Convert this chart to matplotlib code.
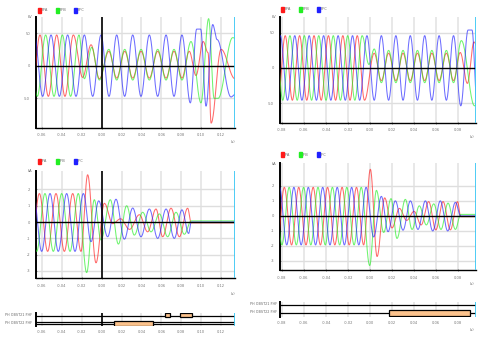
import numpy as np
import matplotlib
matplotlib.use("Agg")
import matplotlib.pyplot as plt
from matplotlib.patches import Rectangle

# ---- data (times in ms, values in kV / kA) ----
# each series is a list of turning points (extrema) of the waveform

# top left: voltages
tl_a_t = [-70.4, -62.0, -53.6, -45.2, -36.9, -28.5, -19.1, -10.7, -2.3, 7.2, 15.1, 23.2, 31.2, 39.6,
          47.9, 56.3, 64.7, 72.7, 80.7, 88.0, 94.8, 102.0, 106.9, 110.0, 120.0, 134.0]
tl_a_v = [-47, 47, -47, 47, -47, 47, -18, 32, -20, 22, -19, 22, -19, 22,
          -19, 22, -19, 22, -19, 22, -15, 37, 20, -88, 25, -20]
tl_b_t = [-73.1, -64.7, -56.3, -47.9, -39.5, -31.2, -22.8, -17.4, -10.0, -2.3, 7.2, 15.1, 23.2, 31.2,
          39.6, 47.9, 56.3, 64.7, 72.7, 80.7, 89.8, 99.8, 107.5, 113.0, 117.0, 131.7, 134.0]
tl_b_v = [47, -47, 47, -47, 47, -47, 47, -20, 28, -22, 25, -22, 25, -22,
          25, -22, 25, -22, 25, -22, 37, -57, 72, -50, -50, 43, 42]
tl_c_t = [-67.7, -59.3, -50.9, -42.5, -34.2, -25.8, -17.4, -9.0, -0.7, 7.4, 15.1, 23.1, 31.2, 39.5,
          47.9, 56.3, 64.7, 72.7, 80.7, 89.1, 95.5, 99.5, 104.9, 111.6, 116.0, 130.0, 134.0]
tl_c_v = [47, -47, 47, -47, 47, -47, 47, -47, 47, -47, 47, -47, 47, -47,
          47, -47, 47, -47, 47, -57, 56, 56, -62, 63, 40, -48, -44]

# top right: voltages
tr_a_t = [-83.7, -77.1, -70.6, -64.0, -57.5, -50.9, -44.4, -37.8, -31.3, -24.7, -18.2, -11.6, -5.0,
          3.8, 10.3, 16.9, 23.5, 30.0, 36.6, 43.1, 49.7, 56.2, 62.8, 69.4, 75.9, 82.0, 88.5, 94.5, 97.5]
tr_a_v = [-46, 46, -46, 46, -46, 46, -46, 46, -46, 46, -46, 46, -46,
          21, -18, 21, -18, 21, -18, 21, -18, 21, -18, 21, -18, 22, -22, 37, 30]
tr_b_t = [-85.9, -79.3, -72.8, -66.2, -59.7, -53.1, -46.6, -40.0, -33.4, -26.9, -20.3, -13.8, -7.2, -1.0,
          3.8, 10.3, 16.9, 23.5, 30.0, 36.6, 43.1, 49.7, 56.2, 62.8, 69.4, 75.9, 83.0, 95.0, 97.5]
tr_b_v = [46, -46, 46, -46, 46, -46, 46, -46, 46, -46, 46, -46, 46, 5,
          27, -21, 25, -21, 25, -21, 25, -21, 25, -21, 25, -21, 39, -54, -50]
tr_c_t = [-88.1, -81.5, -75.0, -68.4, -61.9, -55.3, -48.7, -42.2, -35.6, -29.0, -22.5, -15.9, -9.4, -2.8,
          3.8, 10.3, 16.9, 23.5, 30.0, 36.6, 43.1, 49.7, 56.2, 62.8, 69.4, 75.9, 82.5, 89.1, 92.7, 97.5]
tr_c_v = [-46, 46, -46, 46, -46, 46, -46, 46, -46, 46, -46, 46, -46, 46,
          -46, 46, -46, 46, -46, 46, -46, 46, -46, 46, -46, 46, -54, 54, 54, -60]

# bottom left: currents
bl_a_t = [-71.0, -62.6, -54.3, -45.9, -37.5, -29.1, -20.8, -14.1, -5.7, 2.7, 11.0, 19.0, 28.0, 37.9,
          46.2, 54.6, 61.3, 69.7, 78.1, 86.4, 90.0, 91.0, 134.0]
bl_a_v = [-1.8, 1.75, -1.8, 1.75, -1.8, 1.75, -1.8, 2.9, -2.5, 1.15, -0.1, 0.2, -0.45, 0.45,
          -0.6, 0.8, -0.9, 0.85, -0.9, 0.85, -0.05, -0.05, -0.05]
bl_b_t = [-73.6, -65.3, -57.0, -48.6, -40.2, -31.8, -23.5, -15.1, -7.4, -0.7, 8.7, 16.8, 25.1, 32.8,
          41.2, 49.6, 58.0, 66.3, 74.7, 83.1, 89.8, 91.0, 134.0]
bl_b_v = [1.75, -1.8, 1.75, -1.8, 1.75, -1.8, 1.75, -3.1, 1.37, -1.1, 1.37, -1.35, 1.0, -0.8,
          0.6, -0.6, 0.5, -0.9, 0.6, -0.75, 0.07, 0.07, 0.07]
bl_c_t = [-68.6, -60.3, -51.9, -43.6, -35.2, -26.8, -18.4, -10.7, -3.0, 6.0, 14.4, 22.8, 31.2, 39.5,
          47.9, 56.3, 64.7, 73.0, 80.7, 87.4, 90.0, 91.0, 134.0]
bl_c_v = [1.75, -1.8, 1.75, -1.8, 1.75, -1.8, 1.75, -1.2, 1.3, -0.9, 1.4, -1.05, 0.86, -0.9,
          0.8, -1.0, 0.8, -1.0, 0.75, -0.7, 0.0, 0.0, 0.0]

# bottom right: currents
br_a_t = [-84.4, -77.9, -71.3, -64.8, -58.2, -51.7, -45.1, -38.6, -32.0, -25.4, -18.9, -12.3, -5.8,
          0.3, 6.4, 13.3, 20.0, 26.7, 33.3, 40.0, 46.5, 53.3, 59.8, 66.4, 73.0, 79.6, 82.4, 83.0, 97.5]
br_a_v = [-1.93, 1.9, -1.93, 1.9, -1.93, 1.9, -1.93, 1.9, -1.93, 1.9, -1.93, 1.9, -1.93,
          3.1, -2.7, 1.2, -0.8, 0.5, -0.3, 0.3, -0.6, 0.95, -0.93, 0.95, -0.93, 0.95, -0.05, -0.05, -0.05]
br_b_t = [-86.6, -80.1, -73.5, -67.0, -60.4, -53.8, -47.3, -40.7, -34.2, -27.6, -21.1, -14.5, -8.0,
          -0.3, 5.8, 12.4, 19.1, 24.5, 32.1, 38.2, 44.8, 51.2, 57.9, 64.5, 70.9, 77.6, 82.4, 83.0, 97.5]
br_b_v = [1.9, -1.93, 1.9, -1.93, 1.9, -1.93, 1.9, -1.93, 1.9, -1.93, 1.9, -1.93, 1.9,
          -3.3, 1.7, -1.1, 1.15, -1.5, 1.1, -0.9, 0.67, -0.6, 0.8, -0.9, 0.85, -0.9, 0.1, 0.1, 0.1]
br_c_t = [-82.3, -75.7, -69.2, -62.6, -56.1, -49.5, -43.0, -36.4, -29.8, -23.3, -16.7, -10.2, -3.6,
          3.3, 10.3, 16.4, 23.0, 30.0, 36.7, 43.6, 50.3, 57.0, 63.9, 70.6, 77.6, 82.4, 83.0, 97.5]
br_c_v = [1.9, -1.93, 1.9, -1.93, 1.9, -1.93, 1.9, -1.93, 1.9, -1.93, 1.9, -1.93, 1.9,
          -1.4, 1.3, -1.05, 1.0, -0.95, 1.0, -0.9, 1.0, -1.0, 1.0, -1.0, 0.9, 0.0, 0.0, 0.0]

# binary channels (start, end in ms)
bin_labels = ["PH OBST21 PHF", "PH OBST22 PHF"]
bl_row1 = [(64.0, 68.7), (78.4, 90.8)]
bl_row2 = [(12.4, 51.9)]
br_row1 = []
br_row2 = [(17.0, 91.2)]

volt_names = ["PFA", "PFB", "PFC"]
curr_names = ["IFA", "IFB", "IFC"]
left_ticks = [-60, -40, -20, 0, 20, 40, 60, 80, 100, 120]
right_ticks = [-80, -60, -40, -20, 0, 20, 40, 60, 80]

RED, GREEN, BLUE = "#ff1a1a", "#22ee22", "#2020ff"
CYAN = "#3cc8f4"
W, H = 484, 337


def wave(t, v):
    # smooth curve through turning points (half-cosine between neighbours)
    xs, ys = [], []
    for i in range(len(t) - 1):
        s = np.linspace(0, 1, 24, endpoint=False)
        xs.append(t[i] + (t[i + 1] - t[i]) * s)
        ys.append(v[i] + (v[i + 1] - v[i]) * (1 - np.cos(np.pi * s)) / 2)
    xs.append([t[-1]])
    ys.append([v[-1]])
    return np.concatenate(xs), np.concatenate(ys)


def box(x0, y0, x1, y1):
    # pixel box -> figure fraction rect
    return [x0 / W, 1 - y1 / H, (x1 - x0) / W, (y1 - y0) / H]


fig = plt.figure(figsize=(W / 100, H / 100), dpi=100)


def style_axis(ax, xlim, xticks, ylim, yticks, ylabels, trigger):
    ax.set_xlim(*xlim)
    ax.set_ylim(*ylim)
    for s in ["top", "right"]:
        ax.spines[s].set_visible(False)
    ax.spines["left"].set_linewidth(1.4)
    ax.spines["bottom"].set_linewidth(1.0)
    ax.set_xticks(xticks)
    ax.set_xticklabels([f"{x / 1000:.2f}" for x in xticks])
    ax.set_yticks(yticks)
    ax.set_yticklabels(ylabels)
    ax.tick_params(labelsize=2.6, colors="#777777", length=2, width=0.6, pad=3,
                   direction="inout")
    for x in xticks:
        ax.axvline(x, color="#e4e4e4", lw=1.2, zorder=0)
    for y in yticks:
        if y != 0:
            ax.axhline(y, color="#dedede", lw=1.0, zorder=0)
    ax.axhline(0, color="black", lw=1.0, zorder=4)
    if trigger:
        ax.axvline(0, color="black", lw=1.2, zorder=4)
    ax.axvline(xlim[1], color=CYAN, lw=2.0, zorder=5)


def legend(x, y, names):
    for i, (c, n) in enumerate(zip([RED, GREEN, BLUE], names)):
        xx = x + i * 18
        fig.add_artist(Rectangle((xx / W, 1 - (y + 2.5) / H), 3 / W, 5 / H,
                                 transform=fig.transFigure, color=c))
        fig.text((xx + 4) / W, 1 - y / H, n, fontsize=2.6, color="#666666", va="center")


def waves(ax, series):
    for (t, v), c in zip(series, [RED, GREEN, BLUE]):
        x, y = wave(t, v)
        ax.plot(x, y, color=c, lw=0.75, alpha=0.65, zorder=3)


def binary(rect, xlim, xticks, rows, lines, boxes, trigger, lab_x, lab_y):
    ax = fig.add_axes(rect)
    ax.set_xlim(*xlim)
    ax.set_ylim(0, 1)
    for s in ["top", "right", "bottom"]:
        ax.spines[s].set_visible(False)
    ax.spines["left"].set_linewidth(1.4)
    ax.set_yticks([])
    ax.set_xticks(xticks)
    ax.set_xticklabels([f"{x / 1000:.2f}" for x in xticks])
    ax.tick_params(labelsize=2.6, colors="#777777", length=0, pad=3)
    for x in xticks:
        ax.axvline(x, color="#e4e4e4", lw=1.2, zorder=0)
    for y in lines:
        ax.axhline(y, color="black", lw=0.9, zorder=2)
    for segs, (y0, y1) in zip(rows, boxes):
        for a, b in segs:
            ax.add_patch(Rectangle((a, y0), b - a, y1 - y0, facecolor="#fbc28c",
                                   edgecolor="black", lw=0.9, zorder=3))
    if trigger:
        ax.axvline(0, color="black", lw=1.2, zorder=4)
    ax.axvline(xlim[1], color=CYAN, lw=2.0, zorder=5)
    for lab, yy in zip(bin_labels, lab_y):
        fig.text(lab_x / W, 1 - yy / H, lab, fontsize=2.4, color="#666666",
                 ha="right", va="center")
    return ax


L_XLIM = (-66.3, 134.0)
R_XLIM = (-82.1, 96.6)

# top left
ax1 = fig.add_axes(box(35.7, 16.7, 235, 127.7))
style_axis(ax1, L_XLIM, left_ticks, (-95, 75), [50, 0, -50], ["50", "0", "-50"], True)
waves(ax1, [(tl_a_t, tl_a_v), (tl_b_t, tl_b_v), (tl_c_t, tl_c_v)])
fig.text(32 / W, 1 - 17.5 / H, "kV", fontsize=2.6, color="#666666", ha="right", va="center")
fig.text(231 / W, 1 - 142 / H, "(s)", fontsize=2.6, color="#666666", va="center")
legend(37.5, 10, volt_names)

# top right
ax2 = fig.add_axes(box(279.7, 16.7, 476.3, 122.7))
style_axis(ax2, R_XLIM, right_ticks, (-78, 73), [50, 0, -50], ["50", "0", "-50"], False)
waves(ax2, [(tr_a_t, tr_a_v), (tr_b_t, tr_b_v), (tr_c_t, tr_c_v)])
fig.text(276 / W, 1 - 17.5 / H, "kV", fontsize=2.6, color="#666666", ha="right", va="center")
fig.text(470 / W, 1 - 137 / H, "(s)", fontsize=2.6, color="#666666", va="center")
legend(280.7, 9.5, volt_names)

# bottom left
ax3 = fig.add_axes(box(35.7, 170.7, 235, 278.3))
style_axis(ax3, L_XLIM, left_ticks, (-3.45, 3.15), [2, 1, 0, -1, -2, -3],
           ["2", "1", "0", "-1", "-2", "-3"], True)
waves(ax3, [(bl_a_t, bl_a_v), (bl_b_t, bl_b_v), (bl_c_t, bl_c_v)])
fig.text(32 / W, 1 - 171 / H, "kA", fontsize=2.6, color="#666666", ha="right", va="center")
fig.text(231 / W, 1 - 294 / H, "(s)", fontsize=2.6, color="#666666", va="center")
legend(37.5, 161, curr_names)

# bottom right
ax4 = fig.add_axes(box(279.7, 163.3, 476.3, 270))
style_axis(ax4, R_XLIM, right_ticks, (-3.6, 3.5), [2, 1, 0, -1, -2, -3],
           ["2", "1", "0", "-1", "-2", "-3"], False)
waves(ax4, [(br_a_t, br_a_v), (br_b_t, br_b_v), (br_c_t, br_c_v)])
fig.text(276 / W, 1 - 163.5 / H, "kA", fontsize=2.6, color="#666666", ha="right", va="center")
fig.text(470 / W, 1 - 284 / H, "(s)", fontsize=2.6, color="#666666", va="center")
legend(281, 154.7, curr_names)

# binary panels
binary(box(35.7, 313.3, 235, 326), L_XLIM, left_ticks, [bl_row1, bl_row2],
       [0.81, 0.29, 0.13], [(0.685, 1.0), (0.0, 0.42)], True, 32, [315.5, 322.5])
binary(box(279.7, 301.7, 476.3, 316.7), R_XLIM, right_ticks, [br_row1, br_row2],
       [0.78, 0.27], [(0.55, 1.0), (0.067, 0.447)], False, 277, [304, 311.7])
fig.text(470 / W, 1 - 330 / H, "(s)", fontsize=2.6, color="#666666", va="center")

fig.savefig("out.png", dpi=100)
